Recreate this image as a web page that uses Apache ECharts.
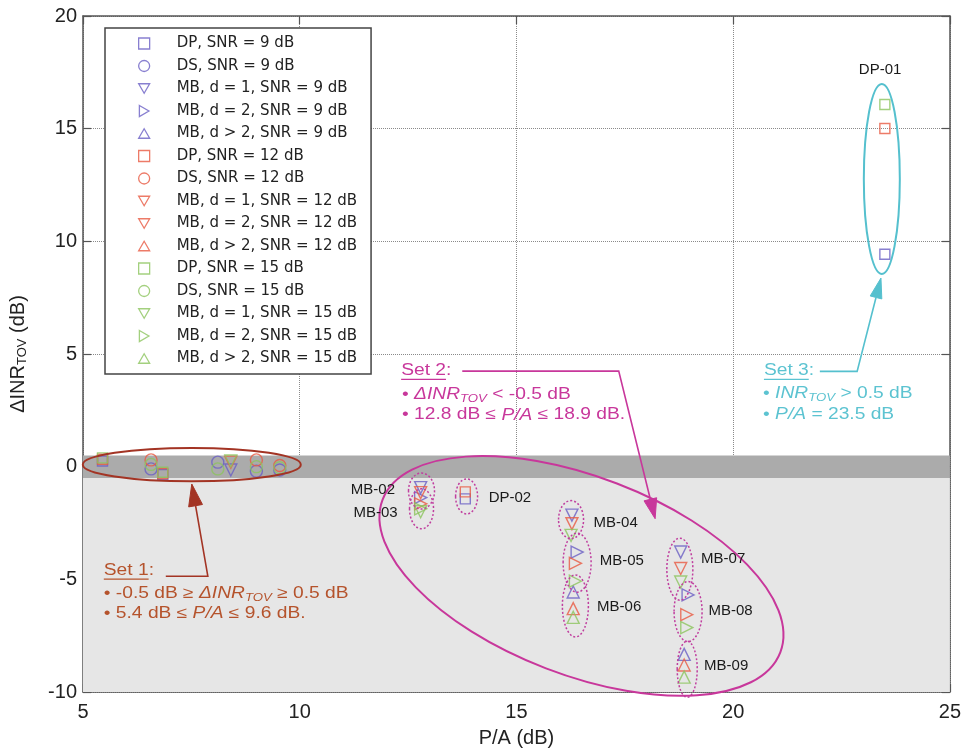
<!DOCTYPE html>
<html><head><meta charset="utf-8">
<script src="https://cdn.jsdelivr.net/npm/echarts@6/dist/echarts.min.js"></script>
<style>html,body{margin:0;padding:0;background:#fff}#c{width:964px;height:753px}</style>
</head><body><div id="c"></div>
<script>
// ---------- data ----------
const xTicks = [5, 10, 15, 20, 25];
const yTicks = [-10, -5, 0, 5, 10, 15, 20];
const xName = 'P/A (dB)';

const dp9    = [[5.45,0.25],[6.84,-0.35],[13.82,-1.43],[23.5,9.43]];
const ds9    = [[6.57,-0.1],[8.11,0.2],[9.0,-0.2],[9.54,-0.15]];
const mbd1_9 = [[8.41,-0.15],[12.79,-0.93],[16.28,-2.15],[18.79,-3.79]];
const mbd2_9 = [[12.79,-1.37],[16.4,-3.79],[18.96,-5.69]];
const mbd3_9 = [[16.31,-5.56],[18.87,-8.33]];
const dp12    = [[5.45,0.33],[6.84,-0.3],[13.82,-1.12],[23.5,15.01]];
const ds12    = [[6.57,0.3],[9.0,0.3],[9.54,0.05]];
const mbd1_12 = [[8.41,0.2],[12.79,-1.15],[16.28,-2.53],[18.79,-4.52]];
const mbd2_12 = [[12.79,-1.65],[16.36,-4.29],[18.93,-6.57]];
const mbd3_12 = [[16.31,-6.3],[18.87,-8.8]];
const dp15    = [[5.45,0.39],[6.84,-0.25],[23.5,16.07]];
const ds15    = [[6.57,0.1],[8.11,-0.1],[9.0,0.0],[9.54,-0.05]];
const mbd1_15 = [[8.41,0.25],[12.79,-2.0],[16.26,-3.05],[18.79,-5.12]];
const mbd2_15 = [[12.79,-1.87],[16.36,-5.08],[18.93,-7.14]];
const mbd3_15 = [[16.31,-6.69],[18.87,-9.34]];

const seriesNames = [
  'DP, SNR = 9 dB','DS, SNR = 9 dB','MB, d = 1, SNR = 9 dB','MB, d = 2, SNR = 9 dB','MB, d > 2, SNR = 9 dB',
  'DP, SNR = 12 dB','DS, SNR = 12 dB','MB, d = 1, SNR = 12 dB','MB, d = 2, SNR = 12 dB','MB, d > 2, SNR = 12 dB',
  'DP, SNR = 15 dB','DS, SNR = 15 dB','MB, d = 1, SNR = 15 dB','MB, d = 2, SNR = 15 dB','MB, d > 2, SNR = 15 dB'
];
const seriesData = [dp9, ds9, mbd1_9, mbd2_9, mbd3_9, dp12, ds12, mbd1_12, mbd2_12, mbd3_12, dp15, ds15, mbd1_15, mbd2_15, mbd3_15];

// band limits
const bandLimit = 0.5;

// sub-group labels
const groupNames  = ['MB-02','MB-03','DP-02','MB-04','MB-05','MB-06','MB-07','MB-08','MB-09'];
const groupCenter = [[12.81,-1.08],[12.81,-1.87],[13.85,-1.32],[16.26,-2.35],[16.40,-4.26],[16.36,-6.18],[18.77,-4.55],[18.96,-6.43],[18.94,-8.99]];
const groupLabelAt= [[11.18,-1.03],[11.24,-2.03],[14.36,-1.37],[16.78,-2.5],[16.92,-4.2],[16.86,-6.21],[19.26,-4.11],[19.43,-6.4],[19.33,-8.84]];

// ---------- styles ----------
const BLUE='#6a5fc4', RED='#e85a42', GREEN='#8cc45e';
const colors = [BLUE,BLUE,BLUE,BLUE,BLUE,RED,RED,RED,RED,RED,GREEN,GREEN,GREEN,GREEN,GREEN];
const shapes = ['rect','circle','triangle','triangle','triangle'];
const rots = [0,0,180,-90,0];
const DOWN = 'path://M0,0L12,0L6,10.4Z', RIGHT = 'path://M0,0L10.4,6L0,12Z', UP = 'path://M6,0L12,10.4L0,10.4Z';
const legendIcons = ['rect','circle',DOWN,RIGHT,UP, 'rect','circle',DOWN,DOWN,UP, 'rect','circle',DOWN,RIGHT,UP];
const groupRadii = [[13,18],[12,20],[11,17.5],[12.5,19],[14,29.5],[13,31],[13,31],[14,30],[10,28]];
const FONT = 'Liberation Sans';

const chart = echarts.init(document.getElementById('c'));

const series = seriesNames.map((n, i) => ({
  type: 'scatter', name: n, data: seriesData[i],
  symbol: shapes[i % 5], symbolRotate: rots[i % 5],
  symbolSize: shapes[i % 5] === 'rect' ? 10 : 12,
  itemStyle: { color: 'rgba(0,0,0,0)', borderColor: colors[i], borderWidth: 1.4 },
  emphasis: { disabled: true }, z: 3
}));
series.push({
  type: 'scatter', name: 'bg', data: [], z: -1, silent: true,
  markArea: { silent: true, data: [
    [{ xAxis: xTicks[0], yAxis: yTicks[0], itemStyle: { color: '#e6e6e6' } }, { xAxis: xTicks[xTicks.length-1], yAxis: -bandLimit }],
    [{ xAxis: xTicks[0], yAxis: -bandLimit, itemStyle: { color: '#ababab' } }, { xAxis: xTicks[xTicks.length-1], yAxis: bandLimit }]
  ]}
});

const legendData = seriesNames.map((n, i) => ({
  name: n, icon: legendIcons[i],
  itemStyle: { color: 'rgba(0,0,0,0)', borderColor: colors[i], borderWidth: 1.3 }
}));

const axisLine = { show: true, onZero: false, lineStyle: { color: '#555', width: 1.5 } };
const axisTick = { show: true, inside: true, length: 8, lineStyle: { color: '#555', width: 1.2 } };
const split = { show: true, lineStyle: { type: 'dotted', color: '#8a8a8a', width: 1 } };

chart.setOption({
  animation: false,
  textStyle: { fontFamily: FONT },
  grid: { left: 82, right: 14, top: 16, bottom: 55 },
  legend: {
    orient: 'vertical', left: 105, top: 28,
    backgroundColor: '#fff', borderColor: '#444', borderWidth: 1.5, borderRadius: 0,
    padding: [8, 14, 8, 33], itemWidth: 11, itemHeight: 11, itemGap: 7.5,
    symbolKeepAspect: true,
    textStyle: { fontFamily: 'DejaVu Sans', fontSize: 15, color: '#222', lineHeight: 11, padding: [0, 0, 0, 22] },
    selectedMode: false, data: legendData
  },
  xAxis: [
    { type: 'value', min: xTicks[0], max: xTicks[xTicks.length-1], interval: 5, position: 'bottom',
      axisLine, axisTick, splitLine: split,
      axisLabel: { fontSize: 20, color: '#222', margin: 10, fontFamily: FONT },
      name: xName, nameLocation: 'middle', nameGap: 36,
      nameTextStyle: { fontSize: 20, color: '#222', fontFamily: FONT } },
    { type: 'value', min: xTicks[0], max: xTicks[xTicks.length-1], interval: 5, position: 'top',
      axisLine, axisTick, axisLabel: { show: false }, splitLine: { show: false } }
  ],
  yAxis: [
    { type: 'value', min: yTicks[0], max: yTicks[yTicks.length-1], interval: 5, position: 'left',
      axisLine, axisTick, splitLine: split,
      axisLabel: { fontSize: 20, color: '#222', margin: 6, fontFamily: FONT },
      name: 'ΔINR{s|TOV} (dB)', nameLocation: 'middle', nameGap: 54,
      nameTextStyle: { fontSize: 20, color: '#222', fontFamily: FONT,
        rich: { s: { fontSize: 13, fontFamily: FONT, color: '#222', padding: [9, 0, 0, 0] } } } },
    { type: 'value', min: yTicks[0], max: yTicks[yTicks.length-1], interval: 5, position: 'right',
      axisLine, axisTick, axisLabel: { show: false }, splitLine: { show: false } }
  ],
  series
});

// ---------- annotations ----------
const P = (x, y) => chart.convertToPixel({ gridIndex: 0 }, [x, y]);
const g = [];
const measure = (() => { const c = document.createElement('canvas').getContext('2d');
  return (t, f) => { c.font = f; return c.measureText(t).width; }; })();

function ellipse(c, rx, ry, color, lw, dash, rot) {
  const p = P(c[0], c[1]);
  g.push({ type: 'ellipse', z: 20, silent: true, x: p[0], y: p[1], rotation: rot || 0,
    shape: { cx: 0, cy: 0, rx, ry },
    style: { fill: null, stroke: color, lineWidth: lw, lineDash: dash || null } });
}
function arrow(pts, color, headLen, headW, lw) {
  const px = pts.map(q => P(q[0], q[1]));
  const tip = px[px.length-1], prev = px[px.length-2];
  const dx = tip[0]-prev[0], dy = tip[1]-prev[1], L = Math.hypot(dx, dy), ux = dx/L, uy = dy/L;
  const base = [tip[0]-ux*headLen, tip[1]-uy*headLen];
  const line = px.slice(0, -1).concat([base]);
  g.push({ type: 'polyline', z: 20, silent: true, shape: { points: line }, style: { stroke: color, lineWidth: lw, fill: null } });
  g.push({ type: 'polygon', z: 20, silent: true, shape: { points: [tip, [base[0]-uy*headW/2, base[1]+ux*headW/2], [base[0]+uy*headW/2, base[1]-ux*headW/2]] },
    style: { fill: color, stroke: color, lineWidth: 1 } });
}
function rich(color) {
  return {
    i: { fontSize: 16, fontFamily: FONT, fontStyle: 'italic', fill: color },
    s: { fontSize: 11, fontFamily: FONT, fontStyle: 'italic', fill: color, padding: [8, 0, 0, 0] },
    n: { fontSize: 16, fontFamily: FONT, fill: color }
  };
}
function note(at, text, color, sx) {
  const p = P(at[0], at[1]);
  g.push({ type: 'text', z: 21, silent: true, x: p[0], y: p[1], scaleX: sx,
    style: { text, fontSize: 16, fontFamily: FONT, fill: color, align: 'left', verticalAlign: 'middle', rich: rich(color) } });
}
function title(at, label, color, sx) {
  note(at, label + ':', color, sx);
  const p = P(at[0], at[1]);
  const w = measure(label, '16px "' + FONT + '"') * sx;
  g.push({ type: 'line', z: 21, silent: true, shape: { x1: p[0], y1: p[1] + 9, x2: p[0] + w, y2: p[1] + 9 }, style: { stroke: color, lineWidth: 1.2 } });
}
function label(at, text, align) {
  const p = P(at[0], at[1]);
  g.push({ type: 'text', z: 21, silent: true, x: p[0], y: p[1],
    style: { text, fontSize: 15, fontFamily: FONT, fill: '#1a1a1a', align: align || 'left', verticalAlign: 'middle' } });
}

const C1 = '#a33424', T1 = '#b5532c';
const C2 = '#c8379b';
const C3 = '#55c0ce', T3 = '#5cc3d1';
const SX = 1.2;

// Set 1
ellipse([7.51, 0.09], 109, 16.7, C1, 2);
arrow([[6.91,-4.86],[7.88,-4.86],[7.51,-0.77]], C1, 22, 14, 1.6);
title([5.48,-4.59], 'Set 1', T1, SX);
note([5.48,-5.65], '• -0.5 dB ≥ {i|ΔINR}{s|TOV} ≥ 0.5 dB', T1, SX);
note([5.48,-6.53], '• 5.4 dB ≤ {i|P/A} ≤ 9.6 dB.', T1, SX);

// Set 2
ellipse([16.5, -4.85], 213, 99, C2, 2, null, -21 * Math.PI / 180);
arrow([[13.75,4.24],[17.36,4.24],[18.20,-2.31]], C2, 20, 13, 1.6);
title([12.34,4.27], 'Set 2', C2, SX);
note([12.36,3.19], '• {i|ΔINR}{s|TOV} < -0.5 dB', C2, SX);
note([12.36,2.29], '• 12.8 dB ≤ {i|P/A} ≤ 18.9 dB.', C2, SX);

// Set 3
ellipse([23.43, 12.77], 18, 95, C3, 2);
arrow([[22.0,4.23],[22.86,4.23],[23.41,8.37]], C3, 20, 12, 1.6);
title([20.71,4.27], 'Set 3', T3, SX);
note([20.69,3.24], '• {i|INR}{s|TOV} > 0.5 dB', T3, SX);
note([20.69,2.3], '• {i|P/A} = 23.5 dB', T3, SX);
label([23.39, 17.6], 'DP-01', 'center');

// sub groups
groupNames.forEach((n, i) => {
  ellipse(groupCenter[i], groupRadii[i][0], groupRadii[i][1], '#c03f9f', 1.5, [2, 2]);
  label(groupLabelAt[i], n);
});

chart.setOption({ graphic: g });
</script></body></html>
